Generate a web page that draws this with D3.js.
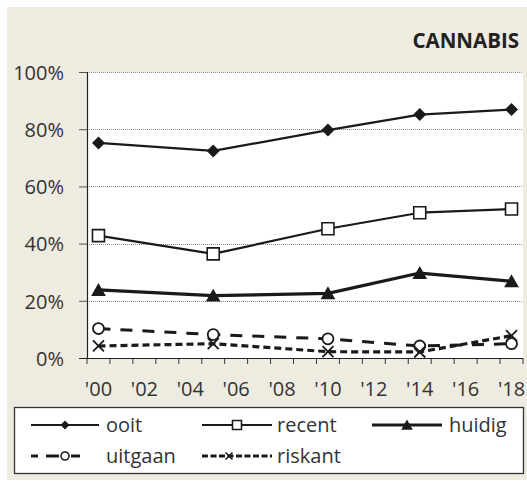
<!DOCTYPE html>
<html>
<head>
<meta charset="utf-8">
<script src="https://cdn.jsdelivr.net/npm/d3@7"></script>
<style>
  html, body { margin: 0; padding: 0; background: #ffffff; }
  svg { display: block; }
  text { font-family: "Open Sans", "Noto Sans", sans-serif; fill: #2b2b2b; }
</style>
</head>
<body>
<svg id="chart" width="527" height="483"></svg>
<script>
// Cannabisgebruik per meetjaar (percentages)
const years = [2000, 2001, 2002, 2003, 2004, 2005, 2006, 2007, 2008, 2009,
               2010, 2011, 2012, 2013, 2014, 2015, 2016, 2017, 2018];
const labelYears = [2000, 2002, 2004, 2006, 2008, 2010, 2012, 2014, 2016, 2018];
const surveyYears = [2000, 2005, 2010, 2014, 2018];
const yTicks = [0, 20, 40, 60, 80, 100];

const ooit    = [75.2, 72.4, 79.7, 85.1, 86.9];
const recent  = [42.8, 36.4, 45.2, 50.8, 52.1];
const huidig  = [23.8, 21.8, 22.6, 29.7, 26.8];
const uitgaan = [10.3, 8.2, 6.7, 4.2, 5.0];
const riskant = [4.2, 5.0, 2.2, 2.1, 7.8];

const seriesNames = ["ooit", "recent", "huidig", "uitgaan", "riskant"];
const seriesValues = [ooit, recent, huidig, uitgaan, riskant];

const svg = d3.select("#chart");
const W = 527;
const plot = { left: 87, right: 523, top: 72, bottom: 358 };
const FONT = "20px";

// achtergrond
svg.append("rect").attr("x", 7).attr("y", 7).attr("width", W - 7).attr("height", 473)
  .attr("fill", "#eeebe1");
svg.append("rect").attr("x", plot.left).attr("y", plot.top)
  .attr("width", plot.right - plot.left).attr("height", plot.bottom - plot.top)
  .attr("fill", "#ffffff");

const x = d3.scaleBand().domain(years).range([plot.left, plot.right]);
const cx = yr => x(yr) + x.bandwidth() / 2;
const y = d3.scaleLinear().domain([0, 100]).range([plot.bottom, plot.top]);

// titel
svg.append("text").attr("x", 519).attr("y", 48).attr("text-anchor", "end")
  .style("font-size", "20.5px").style("font-weight", "700").style("fill", "#222")
  .text("CANNABIS");

// rasterlijnen
svg.append("g").selectAll("line").data(yTicks.filter(d => d > 0)).join("line")
  .attr("x1", plot.left).attr("x2", plot.right)
  .attr("y1", d => Math.round(y(d)) + 0.5).attr("y2", d => Math.round(y(d)) + 0.5)
  .attr("stroke", "#8a8a8a").attr("stroke-width", 1).attr("stroke-dasharray", "1,1");

// y-as
const yAxis = svg.append("g").attr("transform", `translate(${plot.left},0)`)
  .call(d3.axisLeft(y).tickValues(yTicks).tickSize(8).tickFormat(d => d + "%"));
yAxis.select(".domain").remove();
yAxis.selectAll(".tick line").attr("stroke", "#555");
yAxis.selectAll(".tick text").attr("x", -23).attr("dy", "0.36em")
  .style("font-size", FONT).style("fill", "#333");
svg.append("line").attr("x1", plot.left + 0.5).attr("x2", plot.left + 0.5)
  .attr("y1", plot.top).attr("y2", plot.bottom).attr("stroke", "#222").attr("stroke-width", 1.2);

// x-as
const xAxis = svg.append("g").attr("transform", `translate(0,${plot.bottom})`)
  .call(d3.axisBottom(x).tickValues(labelYears).tickSize(0)
    .tickFormat(d => "'" + String(d).slice(2)));
xAxis.select(".domain").remove();
xAxis.selectAll(".tick text").attr("y", 31).attr("dy", "0.36em")
  .style("font-size", FONT).style("fill", "#333");
const boundaries = years.map(yr => x(yr)).concat([x.range()[1]]);
svg.append("g").selectAll("line").data(boundaries).join("line")
  .attr("x1", d => d).attr("x2", d => d)
  .attr("y1", plot.bottom).attr("y2", plot.bottom + 6)
  .attr("stroke", "#333").attr("stroke-width", 1);
svg.append("line").attr("x1", plot.left - 8).attr("x2", plot.right)
  .attr("y1", plot.bottom + 0.5).attr("y2", plot.bottom + 0.5)
  .attr("stroke", "#222").attr("stroke-width", 1.2);

// markeringen
const diamond = s => `M0,${-s}L${s},0L0,${s}L${-s},0Z`;
const square = s => `M${-s},${-s}H${s}V${s}H${-s}Z`;
const triangle = s => `M0,${-s}L${s * 1.05},${s * 0.85}L${-s * 1.05},${s * 0.85}Z`;
const circle = r => `M${r},0A${r},${r} 0 1,1 ${-r},0A${r},${r} 0 1,1 ${r},0Z`;
const cross = s => `M${-s},${-s}L${s},${s}M${s},${-s}L${-s},${s}`;

const styles = {
  ooit:    { width: 2.2, dash: null,    marker: diamond,  size: 6.5, fill: "#1a1a1a", mstroke: "none", mw: 0 },
  recent:  { width: 2.2, dash: null,    marker: square,   size: 6,   fill: "#ffffff", mstroke: "#1a1a1a", mw: 1.6 },
  huidig:  { width: 3.2, dash: null,    marker: triangle, size: 7,   fill: "#1a1a1a", mstroke: "none", mw: 0 },
  uitgaan: { width: 3,   dash: "12,10", marker: circle,   size: 5.5, fill: "#ffffff", mstroke: "#1a1a1a", mw: 1.8 },
  riskant: { width: 3.2, dash: "7,4",   marker: cross,    size: 5.5, fill: "none",    mstroke: "#1a1a1a", mw: 1.8 }
};

const line = d3.line().x(d => cx(d.year)).y(d => y(d.value));

seriesNames.forEach((name, i) => {
  const st = styles[name];
  const pts = surveyYears.map((yr, j) => ({ year: yr, value: seriesValues[i][j] }));
  svg.append("path").datum(pts).attr("d", line)
    .attr("fill", "none").attr("stroke", "#1a1a1a").attr("stroke-width", st.width)
    .attr("stroke-linejoin", "round")
    .attr("stroke-dasharray", st.dash);
  svg.append("g").selectAll("path").data(pts).join("path")
    .attr("transform", d => `translate(${cx(d.year)},${y(d.value)})`)
    .attr("d", st.marker(st.size))
    .attr("fill", st.fill).attr("stroke", st.mstroke).attr("stroke-width", st.mw);
});

// legenda
svg.append("rect").attr("x", 14.5).attr("y", 407.5).attr("width", 509).attr("height", 66)
  .attr("fill", "#ffffff").attr("stroke", "#333").attr("stroke-width", 1.3);

const legendItems = [
  { name: "ooit",    x1: 31,  x2: 99,  mx: 65,  tx: 106, row: 425, ms: 4.5, dash: null },
  { name: "recent",  x1: 202, x2: 272, mx: 237, tx: 277, row: 425, ms: 4.5, dash: null },
  { name: "huidig",  x1: 372, x2: 442, mx: 407, tx: 449, row: 425, ms: 5.5, dash: null },
  { name: "uitgaan", x1: 31,  x2: 81,  mx: 65,  tx: 106, row: 456, ms: 4,   dash: "7,8,13,12,9,100" },
  { name: "riskant", x1: 202, x2: 272, mx: 229, tx: 277, row: 456, ms: 3.5, dash: "6,2.5" }
];
const lg = svg.append("g").selectAll("g").data(legendItems).join("g");
lg.append("line")
  .attr("x1", d => d.x1).attr("x2", d => d.x2).attr("y1", d => d.row).attr("y2", d => d.row)
  .attr("stroke", "#1a1a1a").attr("stroke-width", d => styles[d.name].width)
  .attr("stroke-dasharray", d => d.dash);
lg.append("path")
  .attr("transform", d => `translate(${d.mx},${d.row})`)
  .attr("d", d => styles[d.name].marker(d.ms))
  .attr("fill", d => styles[d.name].fill)
  .attr("stroke", d => styles[d.name].mstroke)
  .attr("stroke-width", d => styles[d.name].mw ? 1.6 : 0);
lg.append("text").attr("x", d => d.tx).attr("y", d => d.row).attr("dy", "0.36em")
  .style("font-size", FONT).style("fill", "#333").text(d => d.name);
</script>
</body>
</html>
